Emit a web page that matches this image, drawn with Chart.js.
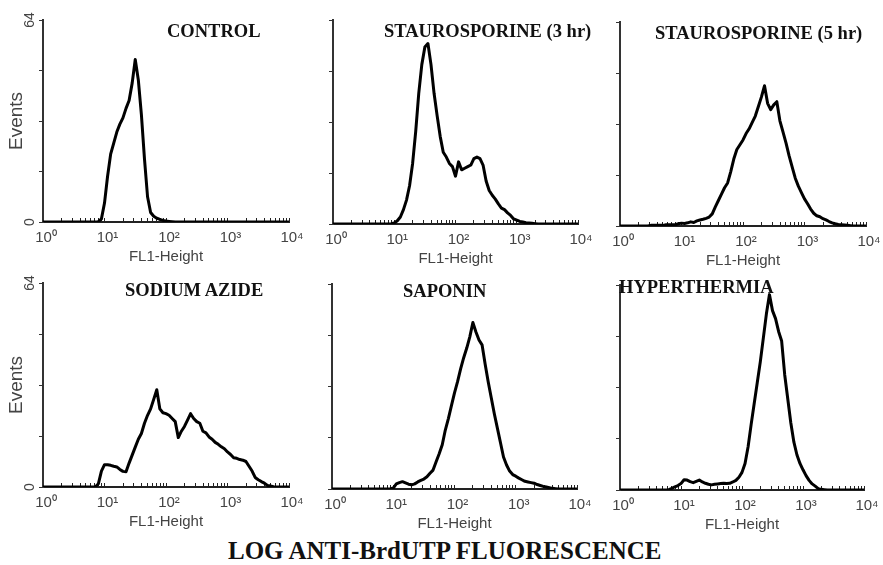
<!DOCTYPE html>
<html><head><meta charset="utf-8">
<script src="https://cdn.jsdelivr.net/npm/chart.js@4.4.1/dist/chart.umd.min.js"></script>
<style>
html,body{margin:0;padding:0;background:#fff;}
#wrap{position:relative;width:883px;height:565px;overflow:hidden;background:#fff;}
#wrap canvas{position:absolute;}
.ttl{position:absolute;font-family:'Liberation Serif','Times New Roman',serif;font-weight:bold;font-size:18.5px;line-height:1;color:#111;white-space:nowrap;}
#main{position:absolute;left:228px;top:538px;font-family:'Liberation Serif','Times New Roman',serif;font-weight:bold;font-size:25px;line-height:1;color:#111;white-space:nowrap;}
</style></head>
<body><div id="wrap"><div id="main"></div></div>
<script>
// ---- DATA ----
const channels = [
 1.000,1.122,1.259,1.413,1.585,1.778,1.995,2.239,2.512,2.818,
 3.162,3.548,3.981,4.467,5.012,5.623,6.310,7.079,7.943,8.913,
 10.00,11.22,12.59,14.13,15.85,17.78,19.95,22.39,25.12,28.18,
 31.62,35.48,39.81,44.67,50.12,56.23,63.10,70.79,79.43,89.13,
 100.0,112.2,125.9,141.3,158.5,177.8,199.5,223.9,251.2,281.8,
 316.2,354.8,398.1,446.7,501.2,562.3,631.0,707.9,794.3,891.3,
 1000,1122,1259,1413,1585,1778,1995,2239,2512,2818,
 3162,3548,3981,4467,5012,5623,6310,7079,7943,8913,
 10000];
const panelTitles = ['CONTROL','STAUROSPORINE (3 hr)','STAUROSPORINE (5 hr)','SODIUM AZIDE','SAPONIN','HYPERTHERMIA'];
const control = [
 0,0,0,0,0,0,0,0,0,0,
 0,0,0,0,0,0,0,0,0.1,1,
 6,14.5,21.5,25,28.5,31,33,36,38.5,44,
 51.5,45,34,20,8,3,1.8,1.2,0.8,0.5,
 0.3,0.2,0.1,0,0,0,0,0,0,0,
 0,0,0,0,0,0,0,0,0,0,
 0,0,0,0,0,0,0,0,0,0,
 0,0,0,0,0,0,0,0,0,0,
 0];
const stauro3h = [
 0,0,0,0,0,0,0,0,0,0,
 0,0,0,0,0,0,0,0,0,0.1,
 0.3,1,2.2,4.5,7.5,12,19,29,41,50,
 55.5,56.6,50,41,34,27.5,22.5,21,19,18,
 15,19.5,17,17.5,18,18.5,20.5,21,20.5,18.5,
 13.5,10.5,9,7.8,6.3,5,4.5,3.5,2.7,1.6,
 1.2,0.8,0.6,0.4,0.3,0.2,0.1,0,0,0,
 0,0,0,0,0,0,0,0,0,0,
 0];
const stauro5h = [
 0,0,0,0,0,0,0,0,0,0,
 0.2,0.2,0.2,0.2,0.2,0.4,0.4,0.4,0.4,0.7,
 0.9,0.8,1,1.3,1.1,1.6,1.9,2.1,2.4,2.8,
 3.8,6,8,10,12,13.5,17,21,24,25.5,
 27,29,30.5,32.5,34.5,37.5,40.5,44,38.5,36.5,
 38,39,33,29.5,26,22,18.5,15,12.5,10.5,
 8.5,7,5.3,4,3.2,2.9,2.3,1.9,1.4,1,
 0.7,0.5,0.4,0.3,0.2,0.1,0,0,0,0,
 0];
const sodiumAzide = [
 0,0,0,0,0,0,0,0,0,0,
 0,0,0,0,0,0,0,0,1,5,
 7,7,6.8,6.5,6.3,5.5,4.9,4.8,7.5,10,
 12.5,15,16.8,20,22.5,24.5,27.5,30.5,24.5,23.3,
 23,22.5,21.5,20.5,15.5,17.5,19,21,23,21.5,
 20.5,20,17.5,17,15.7,15,14,13.4,12.6,12,
 11,10.2,9.2,9,8.6,8.4,8,6.5,5,3,
 2.3,1.7,1.2,0.5,0.3,0.1,0,0,0,0,
 0];
const saponin = [
 0,0,0,0,0,0,0,0,0,0,
 0,0,0,0,0,0,0,0,0,0,
 0.3,1.6,2,2.3,1.9,1.5,1.3,1.6,2.2,2.7,
 3.1,3.8,4.9,5.9,8.5,11,13.8,18.4,22,26,
 30,33.5,37.5,41,44,47.5,52,49,46.5,45,
 39,33.5,28.5,23.5,19,14.5,10,7.5,5.6,4.5,
 4,3.4,2.9,2.4,2.2,2,1.8,1.4,1.1,0.8,
 0.6,0.4,0.2,0.1,0,0,0,0,0,0,
 0];
const hyperthermia = [
 0,0,0,0,0,0,0,0,0,0,
 0,0,0,0,0,0,0.1,0.5,1,1.4,
 2,3.2,3.1,2.6,2.3,2.7,3.1,2.5,2.1,1.8,
 1.6,1.8,1.9,2,2.1,2,2.1,2.5,3,4,
 5.5,8.3,13.5,20.5,27,33.5,40,47.5,55,61,
 56,53.5,49.5,46.5,36,28.5,21,15,11,8.3,
 6.3,4.5,3,1.9,1.2,0.4,0.2,0.1,0,0,
 0,0,0,0,0,0,0,0,0,0,
 0];
const xTickValues = [1,10,100,1000,10000];
const xTickLabels = ['10⁰','10¹','10²','10³','10⁴'];
const xMinorMantissas = [2,3,4,5,6,7,8,9];
const yTickValues = [0,16,32,48,64];
const yLabelValues = [0,64];
const yLabelTexts = ['0','64'];
const xTitle = 'FL1-Height';
const yTitle = 'Events';
const mainTitle = 'LOG ANTI-BrdUTP FLUORESCENCE';

// ---- LAYOUT ----
const seriesList = [control, stauro3h, stauro5h, sodiumAzide, saponin, hyperthermia];
const layoutBoxes = [
 {L:43, R:289, T:20, B:222, left:true,  tx:167, ty:21.5},
 {L:333,R:578, T:20, B:224, left:false, tx:384, ty:21.5},
 {L:620,R:866, T:22, B:226, left:false, tx:655, ty:23.5},
 {L:43, R:289, T:283,B:487, left:true,  tx:125, ty:280.5},
 {L:332,R:577, T:284,B:489, left:false, tx:403, ty:281.5},
 {L:620,R:864, T:285,B:490, left:false, tx:619, ty:277.5}
];
const Y_W = 43, X_H = 50, PAD_T = 20, PAD_R = 16;

const xAllTicks = [];
xTickValues.forEach((d, i) => {
  xAllTicks.push(d);
  if (i < xTickValues.length - 1) xMinorMantissas.forEach(m => xAllTicks.push(m * d));
});

const yRotLabels = {
  id: 'yRotLabels',
  afterDraw(chart, args, opts) {
    if (!opts.show) return;
    const ctx = chart.ctx, ys = chart.scales.y;
    ctx.save();
    ctx.font = '14px "Liberation Sans", Arial, sans-serif';
    ctx.fillStyle = '#444';
    ctx.textAlign = 'center';
    ctx.textBaseline = 'middle';
    yLabelValues.forEach((v, i) => {
      ctx.save();
      ctx.translate(chart.chartArea.left - 12.5, ys.getPixelForValue(v));
      ctx.rotate(-Math.PI / 2);
      ctx.fillText(yLabelTexts[i], 0, 0);
      ctx.restore();
    });
    ctx.restore();
  }
};

const wrap = document.getElementById('wrap');
document.getElementById('main').textContent = mainTitle;

layoutBoxes.forEach((p, idx) => {
  const w = p.R - p.L + Y_W + PAD_R, h = p.B - p.T + PAD_T + X_H;
  const cv = document.createElement('canvas');
  cv.width = w; cv.height = h;
  cv.style.left = (p.L - Y_W) + 'px'; cv.style.top = (p.T - PAD_T) + 'px';
  cv.style.width = w + 'px'; cv.style.height = h + 'px';
  wrap.appendChild(cv);

  const t = document.createElement('div');
  t.className = 'ttl';
  t.textContent = panelTitles[idx];
  t.style.left = p.tx + 'px'; t.style.top = p.ty + 'px';
  wrap.appendChild(t);

  const vals = seriesList[idx];
  const pts = channels.map((c, i) => ({x: c, y: vals[i]}));

  new Chart(cv, {
    type: 'line',
    data: {datasets: [{data: pts, borderColor: '#000', borderWidth: 3, pointRadius: 0,
      fill: false, tension: 0, borderJoinStyle: 'round', borderCapStyle: 'round'}]},
    plugins: [yRotLabels],
    options: {
      responsive: false, animation: false, devicePixelRatio: 1,
      layout: {autoPadding: false, padding: {left: 0, right: PAD_R, top: PAD_T, bottom: 0}},
      plugins: {legend: {display: false}, tooltip: {enabled: false}, yRotLabels: {show: p.left}},
      scales: {
        x: {
          type: 'logarithmic', min: 1, max: 10000, position: 'bottom',
          afterBuildTicks: s => { s.ticks = xAllTicks.map(v => ({value: v})); },
          afterFit: s => { s.height = X_H; s.paddingLeft = 0; s.paddingRight = 0; s.paddingTop = 0; s.paddingBottom = 0; },
          ticks: {autoSkip: false, maxRotation: 0, minRotation: 0, padding: 11, labelOffset: 3,
            color: '#444', font: {family: '"Liberation Sans", Arial, sans-serif', size: 15},
            callback: v => { const i = xTickValues.indexOf(v); return i >= 0 ? xTickLabels[i] : ''; }},
          grid: {drawOnChartArea: false, drawTicks: true, tickLength: -4, color: '#222', lineWidth: 1},
          border: {display: true, color: '#222', width: 2},
          title: {display: true, text: xTitle, color: '#444',
            font: {family: '"Liberation Sans", Arial, sans-serif', size: 15}, padding: {top: 0, bottom: 6}}
        },
        y: {
          type: 'linear', min: 0, max: 64, position: 'left',
          afterBuildTicks: s => { s.ticks = yTickValues.map(v => ({value: v})); },
          afterFit: s => { s.width = Y_W; s.paddingTop = 0; s.paddingBottom = 0; s.paddingLeft = 0; s.paddingRight = 0; },
          ticks: {display: false},
          grid: {drawOnChartArea: false, drawTicks: true, tickLength: 4, color: '#333', lineWidth: 1},
          border: {display: true, color: '#333', width: 2},
          title: {display: p.left, text: yTitle, color: '#444',
            font: {family: '"Liberation Sans", Arial, sans-serif', size: 19}, padding: {top: 5, bottom: 0}}
        }
      }
    }
  });
});
</script>
</body></html>
